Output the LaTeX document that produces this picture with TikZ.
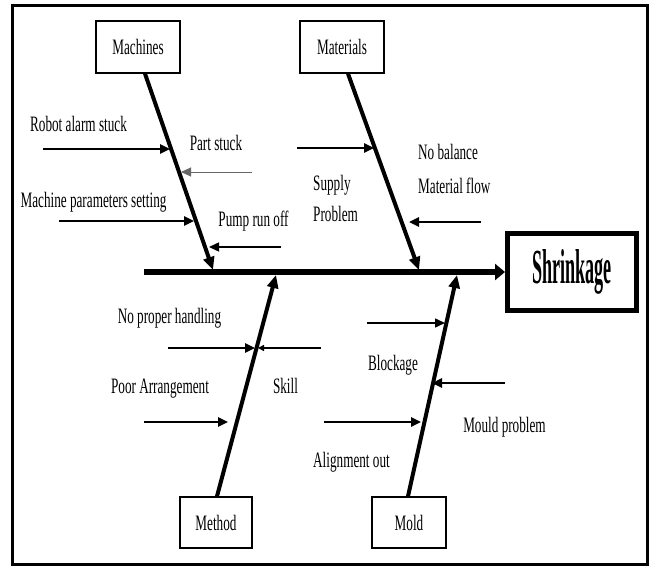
\documentclass[tikz,border=0pt]{standalone}
\usepackage{fontspec}
\setmainfont[FakeStretch=0.6]{Liberation Serif}
\newfontfamily\bigfont[FakeStretch=0.37]{Liberation Serif}
\usetikzlibrary{arrows.meta}
\tikzset{
  catbox/.style={draw, line width=1.4pt, inner sep=0pt, font=\fontsize{22}{25}\selectfont},
  lbl/.style={anchor=base, inner sep=0pt, font=\fontsize{22}{25}\selectfont},
  lbll/.style={anchor=base west, inner sep=0pt, font=\fontsize{22}{25}\selectfont},
  bone/.style={line width=4pt, -{Triangle[length=13pt,width=11pt]}},
  spine/.style={line width=6pt, -{Triangle[length=10pt,width=16pt]}},
  sub/.style={line width=2.4pt, -{Triangle[length=10pt,width=9pt]}},
  thinsub/.style={line width=1.5pt, -{Triangle[length=10pt,width=9pt]}},
  faint/.style={line width=0.9pt, black!60, -{Triangle[length=10pt,width=9pt]}},
}
\begin{document}
\begin{tikzpicture}[x=1pt,y=-1pt]
\useasboundingbox (0,0) rectangle (653,567);
\draw[line width=3pt] (12,6) rectangle (647,564);

% boxes
\node[catbox, minimum width=84pt, minimum height=52pt] (mach) at (138,47) {Machines};
\node[catbox, minimum width=84pt, minimum height=52pt] (mat) at (342,47) {Materials};
\node[catbox, minimum width=72pt, minimum height=51pt] (meth) at (216,522.5) {Method};
\node[catbox, minimum width=74pt, minimum height=51pt] (mold) at (409,522.5) {Mold};
\node[draw, line width=5pt, inner sep=0pt, minimum width=129pt, minimum height=77pt,
      font=\bigfont\bfseries\fontsize{49}{52}\selectfont] (shr) at (572,272) {Shrinkage};

% spine
\coordinate (tail) at (144,272);
\draw[spine] (tail) -- (shr.west);

% bones
\coordinate (machE) at (213,270);
\coordinate (matE) at (419,270);
\coordinate (methE) at (276,275);
\coordinate (moldE) at (457,275);
\draw[bone] ([xshift=7pt]mach.south) -- (machE);
\draw[bone] ([xshift=6pt]mat.south) -- (matE);
\draw[bone] ([xshift=1pt]meth.north) -- (methE);
\draw[bone] ([xshift=-1pt]mold.north) -- (moldE);

% Machines causes
\node[lbl] (t1) at (78.5,131.5) {Robot alarm stuck};
\node[lbl] (t2) at (216,150) {Part stuck};
\node[lbl] (t3) at (93.5,207) {Machine parameters setting};
\node[lbl] (t4) at (253.5,226) {Pump run off};
\coordinate (a1s) at (43,149);  \coordinate (a1e) at (170,149);
\coordinate (a2s) at (252,172); \coordinate (a2e) at (181,172);
\coordinate (a3s) at (59,221);  \coordinate (a3e) at (194,221);
\coordinate (a4s) at (281,247); \coordinate (a4e) at (209,247);
\draw[sub] (a1s) -- (a1e);
\draw[faint] (a2s) -- (a2e);
\draw[sub] (a3s) -- (a3e);
\draw[thinsub] (a4s) -- (a4e);

% Materials causes
\node[lbll] (t5) at (313,190) {Supply};
\node[lbll] (t6) at (313,221) {Problem};
\node[lbll] (t7) at (418,159) {No balance};
\node[lbll] (t8) at (418,193) {Material flow};
\coordinate (a5s) at (297,148); \coordinate (a5e) at (374,148);
\coordinate (a6s) at (481,222); \coordinate (a6e) at (409,222);
\draw[sub] (a5s) -- (a5e);
\draw[sub] (a6s) -- (a6e);

% Method causes
\node[lbl] (t9) at (169.5,323) {No proper handling};
\node[lbl] (t10) at (285.5,393) {Skill};
\node[lbl] (t11) at (160,393) {Poor Arrangement};
\coordinate (a7s) at (168,348); \coordinate (a7e) at (255,348);
\coordinate (a8s) at (321,348); \coordinate (a8e) at (258,348);
\coordinate (a9s) at (144,422); \coordinate (a9e) at (228,422);
\draw[sub] (a7s) -- (a7e);
\draw[line width=1.5pt, -{Triangle[length=6pt,width=6pt]}] (a8s) -- (a8e);
\draw[sub] (a9s) -- (a9e);

% Mold causes
\node[lbl] (t12) at (393,370) {Blockage};
\node[lbl] (t13) at (504.5,432) {Mould problem};
\node[lbl] (t14) at (351.5,467) {Alignment out};
\coordinate (a10s) at (367,323); \coordinate (a10e) at (445,323);
\coordinate (a11s) at (505,383); \coordinate (a11e) at (432,383);
\coordinate (a12s) at (324,422); \coordinate (a12e) at (421,422);
\draw[thinsub] (a10s) -- (a10e);
\draw[sub] (a11s) -- (a11e);
\draw[sub] (a12s) -- (a12e);
\end{tikzpicture}
\end{document}
